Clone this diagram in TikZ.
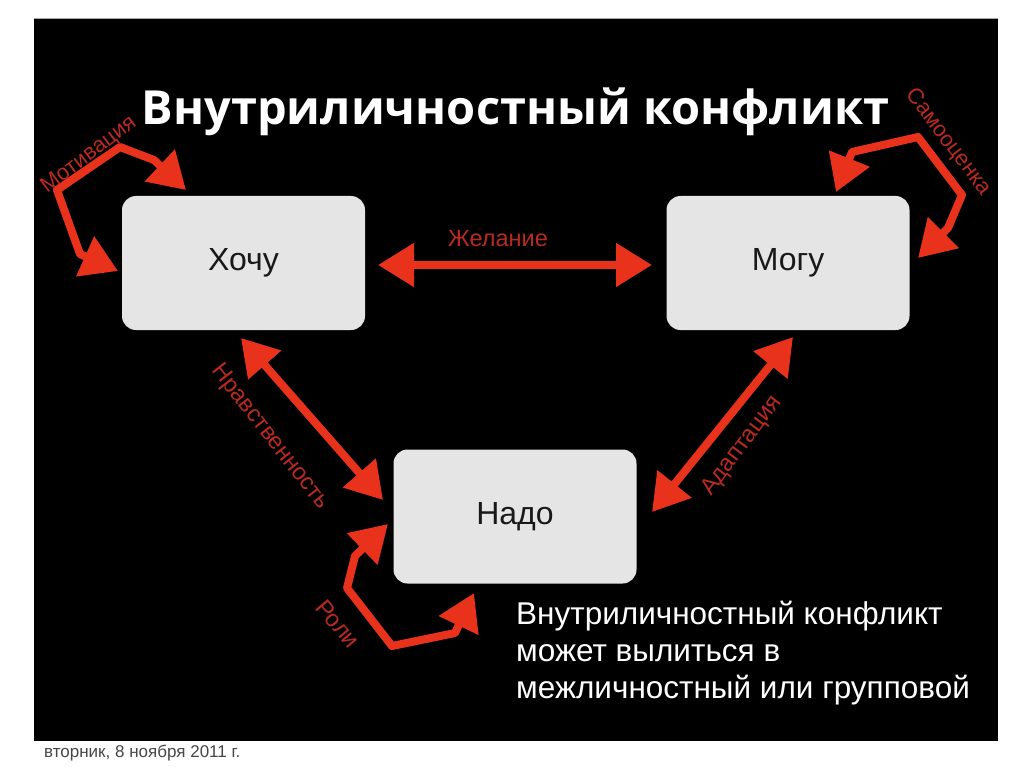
\documentclass[tikz,border=0pt]{standalone}
\usepackage{fontspec}
\setmainfont{Liberation Sans}
\newfontfamily\titlefont{Open Sans}
\usetikzlibrary{arrows.meta}
\definecolor{arrowred}{RGB}{232,50,28}
\definecolor{labelred}{RGB}{185,42,32}
\definecolor{boxgray}{RGB}{229,229,229}
\definecolor{boxtext}{RGB}{25,25,25}
\definecolor{footgray}{RGB}{70,70,70}
\tikzset{
  box/.style={draw=none, fill=boxgray, rounded corners=14pt, minimum width=243pt, minimum height=134pt,
    inner sep=0pt, text=boxtext, font=\fontsize{32}{38}\selectfont},
  redarrow/.style={draw=arrowred, line width=8pt, line join=round,
    {Triangle[length=36pt,width=42pt]}-{Triangle[length=36pt,width=42pt]}},
  redlabel/.style={text=labelred, font=\fontsize{23.5}{28}\selectfont, inner sep=0pt},
  smalllabel/.style={redlabel, font=\fontsize{22}{26}\selectfont},
  bodytext/.style={text=white, font=\fontsize{31.5}{37}\selectfont, anchor=base west, inner sep=0pt}
}
\begin{document}
\begin{tikzpicture}[x=1pt,y=-1pt]
\useasboundingbox (0,0) rectangle (1024,767);
\fill[white] (0,0) rectangle (1024,767);
\fill[black] (34,18) rectangle (998,741);
\draw[gray!70, line width=0.8pt] (34,18) -- (998,18);

% title
\node[anchor=base, text=white, inner sep=0pt, font=\titlefont\bfseries\fontsize{47}{56}\selectfont] (title) at (515.5,125) {Внутриличностный конфликт};

% boxes
\node[box] (hochu) at (243.5,263) {Хочу};
\node[box] (mogu) at (788,263) {Могу};
\node[box] (nado) at (515,516.5) {Надо};

% arrow end points
\coordinate (z1) at (378,265);
\coordinate (z2) at (652,265);
\coordinate (n1) at (241,338);
\coordinate (n2) at (383,500);
\coordinate (a1) at (793,337);
\coordinate (a2) at (652,512);
\coordinate (m1) at (186,190);
\coordinate (m2) at (118,271);
\coordinate (s1) at (836,192);
\coordinate (s2) at (918,258);
\coordinate (r1) at (388,524);
\coordinate (r2) at (474,593);

% connectors between boxes
\draw[redarrow] (z1) -- (z2);
\draw[redarrow] (n1) -- (n2);
\draw[redarrow] (a1) -- (a2);

% self loops
\draw[redarrow] (m1) -- (154,160) -- (120,147) -- (57,190) -- (80,254) -- (m2);
\draw[redarrow] (s1) -- (852,152) -- (918,137) -- (962,195) -- (948,228) -- (s2);
\draw[redarrow] (r1) -- (355,556) -- (347,588) -- (392,646) -- (455,633) -- (r2);

% labels
\node[redlabel] (lz) at (498,239) {Желание};
\node[smalllabel, rotate=37] (lm) at (89,155) {Мотивация};
\node[smalllabel, rotate=-53] (ls) at (948,142) {Самооценка};
\node[redlabel, rotate=-52] (ln) at (270,437) {Нравственность};
\node[redlabel, rotate=53] (la) at (742,446) {Адаптация};
\node[redlabel, rotate=-50] (lr) at (338,624) {Роли};

% body text
\node[bodytext] (t1) at (516,624) {Внутриличностный конфликт};
\node[bodytext] (t2) at (516,661) {может вылиться в};
\node[bodytext] (t3) at (516,698) {межличностный или групповой};

% footer
\node[anchor=base west, inner sep=0pt, text=footgray, font=\fontsize{17}{20}\selectfont] (foot) at (44,757) {вторник, 8 ноября 2011 г.};
\end{tikzpicture}
\end{document}
